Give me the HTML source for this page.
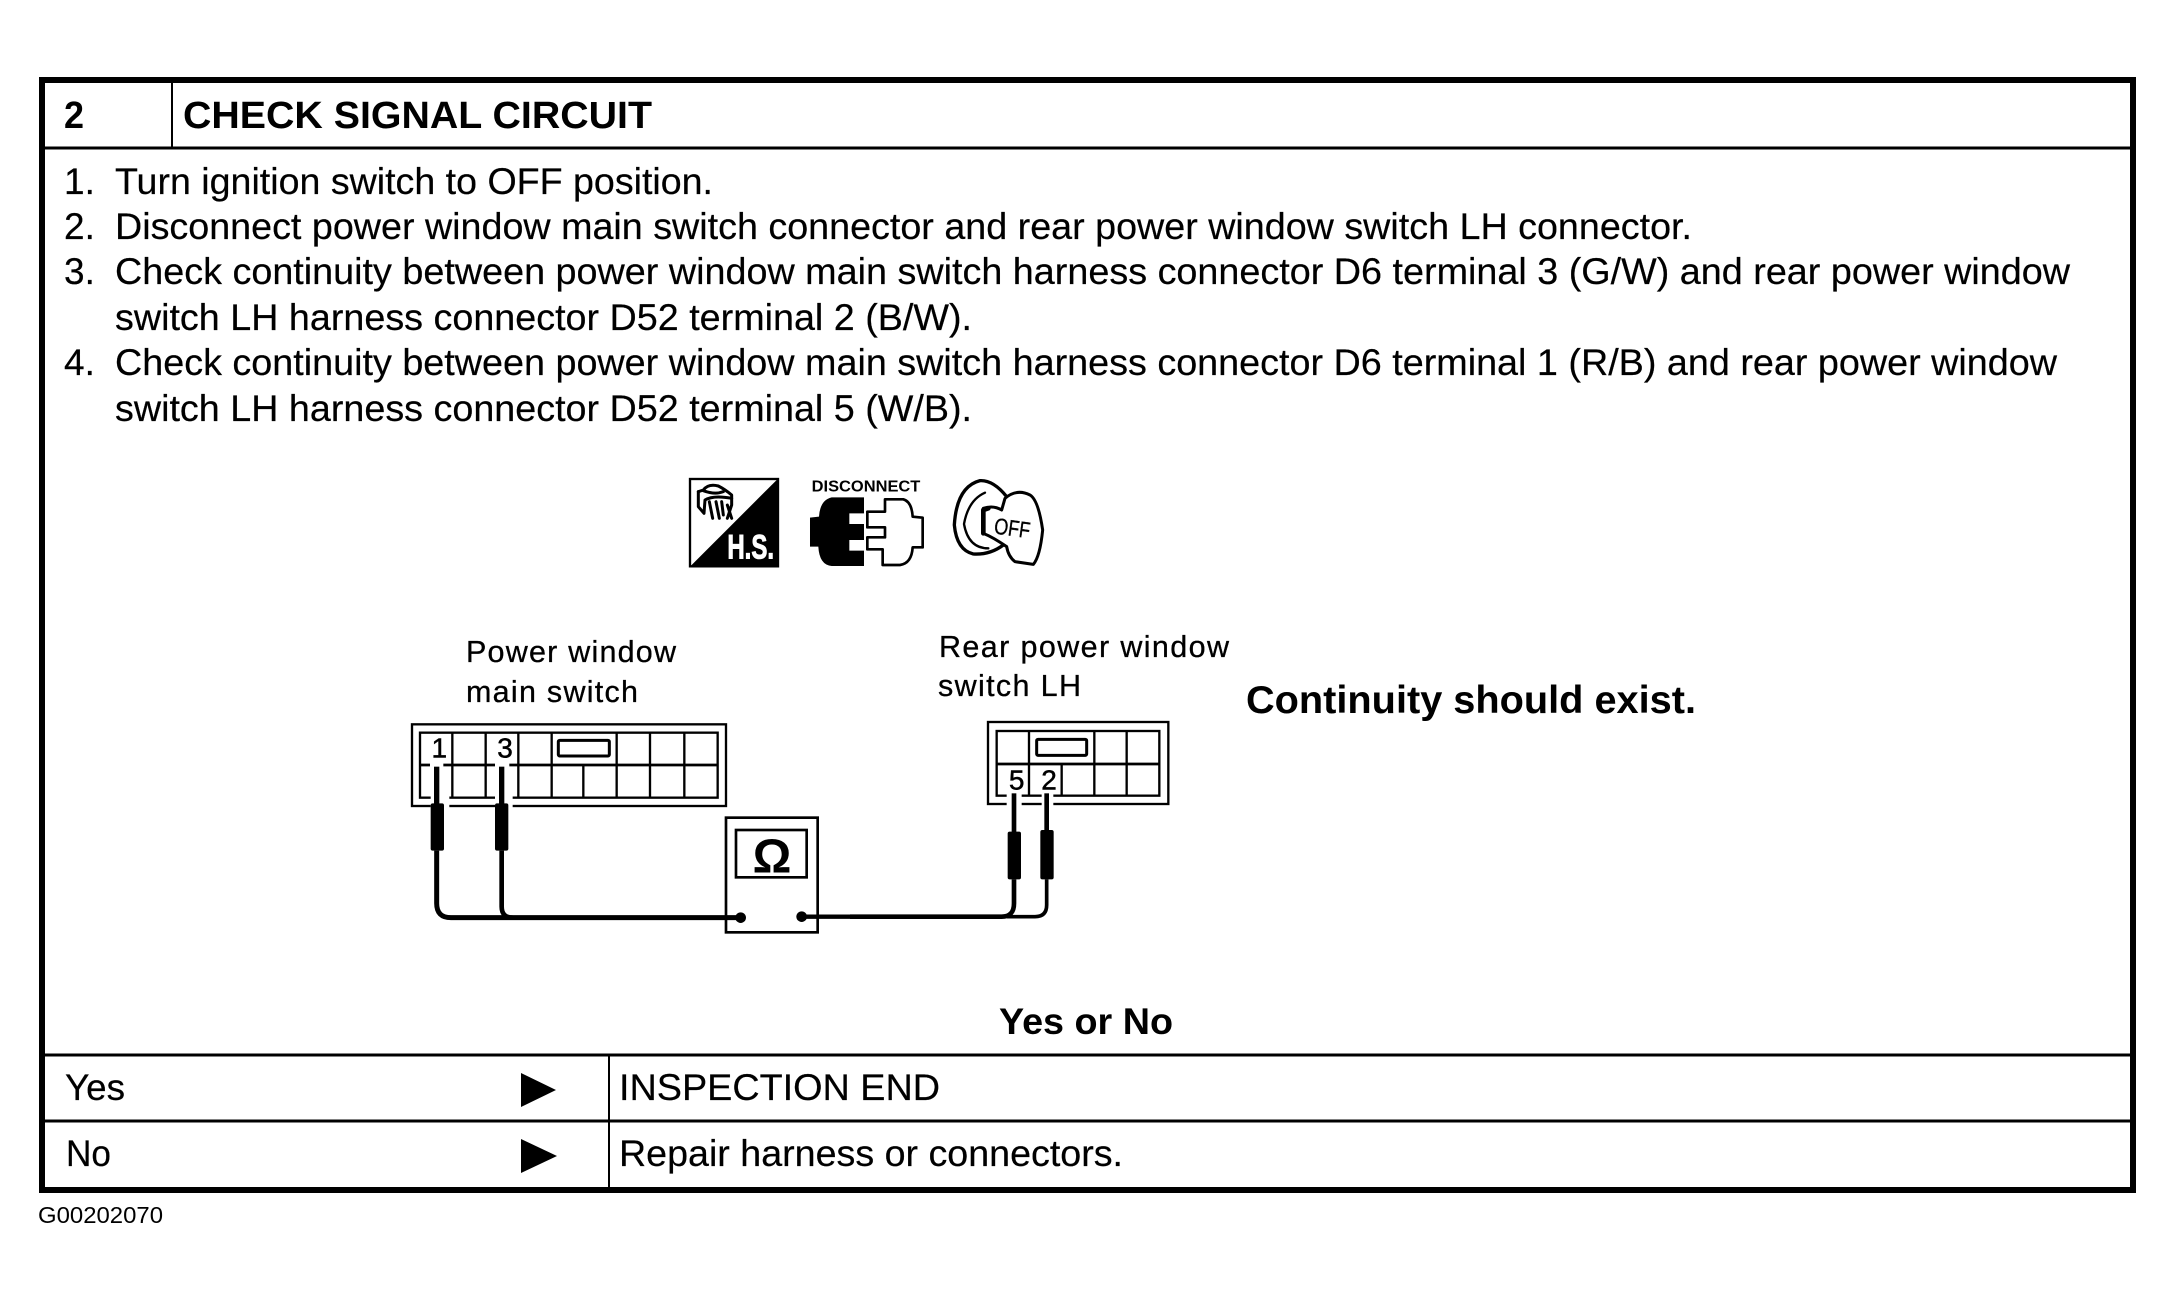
<!DOCTYPE html>
<html>
<head>
<meta charset="utf-8">
<style>
html,body{margin:0;padding:0;background:#fff;width:2176px;height:1299px;overflow:hidden}
svg{display:block}
text{font-family:"Liberation Sans",sans-serif;fill:#000}
.b{font-size:37px;stroke:#000;stroke-width:.2px}
.bd{font-weight:bold;font-size:38px}
.l{font-size:30.5px;stroke:#000;stroke-width:.3px}
</style>
</head>
<body>
<svg width="2176" height="1299" viewBox="0 0 2176 1299" xmlns="http://www.w3.org/2000/svg">
<rect width="2176" height="1299" fill="#fff"/>

<!-- frame -->
<rect x="42" y="80" width="2091" height="1110" fill="none" stroke="#000" stroke-width="6"/>
<line x1="42" y1="148" x2="2133" y2="148" stroke="#000" stroke-width="3"/>
<line x1="172" y1="80" x2="172" y2="148" stroke="#000" stroke-width="2"/>
<line x1="42" y1="1055" x2="2133" y2="1055" stroke="#000" stroke-width="3"/>
<line x1="42" y1="1121" x2="2133" y2="1121" stroke="#000" stroke-width="3"/>
<line x1="609" y1="1055" x2="609" y2="1190" stroke="#000" stroke-width="2"/>

<!-- header -->
<text class="bd" x="64" y="128" textLength="20" lengthAdjust="spacingAndGlyphs">2</text>
<text class="bd" x="183" y="128" textLength="469" lengthAdjust="spacingAndGlyphs">CHECK SIGNAL CIRCUIT</text>

<!-- steps -->
<text class="b" x="64" y="194">1.</text>
<text class="b" x="115" y="194" textLength="598" lengthAdjust="spacingAndGlyphs">Turn ignition switch to OFF position.</text>
<text class="b" x="64" y="239">2.</text>
<text class="b" x="115" y="239" textLength="1577" lengthAdjust="spacingAndGlyphs">Disconnect power window main switch connector and rear power window switch LH connector.</text>
<text class="b" x="64" y="284">3.</text>
<text class="b" x="115" y="284" textLength="1955" lengthAdjust="spacingAndGlyphs">Check continuity between power window main switch harness connector D6 terminal 3 (G/W) and rear power window</text>
<text class="b" x="115" y="330" textLength="857" lengthAdjust="spacingAndGlyphs">switch LH harness connector D52 terminal 2 (B/W).</text>
<text class="b" x="64" y="375">4.</text>
<text class="b" x="115" y="375" textLength="1942" lengthAdjust="spacingAndGlyphs">Check continuity between power window main switch harness connector D6 terminal 1 (R/B) and rear power window</text>
<text class="b" x="115" y="421" textLength="857" lengthAdjust="spacingAndGlyphs">switch LH harness connector D52 terminal 5 (W/B).</text>

<!-- icons (zoom coords) -->
<g transform="translate(640,450) scale(0.33333)">
  <rect x="150" y="87" width="264" height="262" fill="#fff" stroke="#000" stroke-width="7"/>
  <path d="M415,85 L415,350 L150,350 Z" fill="#000"/>
  <text x="262" y="325" style="font-weight:bold;font-size:104px;fill:#fff;stroke:#fff;stroke-width:3px" textLength="140" lengthAdjust="spacingAndGlyphs">H.S.</text>
  <g fill="none" stroke="#000" stroke-width="9" stroke-linejoin="round" stroke-linecap="round">
    <path d="M175,125 L190,120 Q205,100 235,108 Q255,118 275,135 L275,165 L262,205"/>
    <path d="M175,125 L175,170 L192,190 L195,150 Q220,135 275,145"/>
    <path d="M208,155 L218,205 M228,155 L238,205 M245,155 L250,195 M262,165 L275,205"/>
    <path d="M190,122 Q225,135 250,125"/>
  </g>

  <text x="515" y="125" style="font-weight:bold;font-size:48px" textLength="326" lengthAdjust="spacingAndGlyphs">DISCONNECT</text>
  <path d="M672,142 L575,142 Q540,150 537,200 L510,203 L510,290 L535,290 Q538,345 575,348 L672,348 L672,302 L628,302 L628,270 L672,270 L672,222 L628,222 L628,190 L672,190 Z" fill="#000"/>
  <path d="M735,148 L790,148 Q815,155 818,200 L848,203 L848,292 L818,292 Q815,340 780,345 L728,345 L728,298 L682,298 L682,262 L735,262 L735,232 L682,232 L682,185 L735,185 Z" fill="#fff" stroke="#000" stroke-width="8" stroke-linejoin="round"/>

  <g fill="none" stroke="#000" stroke-linecap="round" stroke-linejoin="round">
    <path d="M1100,140 Q1060,90 1020,92 Q950,110 943,225 Q950,300 1000,312 Q1050,315 1090,285" stroke-width="10"/>
    <path d="M1035,128 Q985,150 972,222 Q985,295 1045,295" stroke-width="7"/>
    <path d="M1095,145 Q1130,115 1170,135 Q1195,150 1208,240 Q1200,320 1180,343 L1125,335 Q1105,320 1100,290 Q1060,262 1030,250 L1030,175 Q1060,165 1085,180 Z" fill="#fff" stroke-width="9"/>
    <path d="M1045,175 L1030,180 L1030,250" stroke-width="14"/>
  </g>
  <text transform="translate(1060,250) rotate(8)" style="font-size:68px;stroke:#000;stroke-width:1px" textLength="108" lengthAdjust="spacingAndGlyphs">OFF</text>
</g>

<!-- labels -->
<text class="l" x="466" y="662" textLength="210" lengthAdjust="spacing">Power window</text>
<text class="l" x="466" y="702" textLength="172" lengthAdjust="spacing">main switch</text>
<text class="l" x="939" y="657" textLength="290" lengthAdjust="spacing">Rear power window</text>
<text class="l" x="938" y="696" textLength="143" lengthAdjust="spacing">switch LH</text>
<text x="1246" y="713" style="font-weight:bold;font-size:39px" textLength="450" lengthAdjust="spacingAndGlyphs">Continuity should exist.</text>

<!-- left connector + meter -->
<g transform="translate(390,620) scale(0.33333)" fill="none" stroke="#000">
  <rect x="66" y="313" width="942" height="245" stroke-width="7"/>
  <rect x="90" y="338" width="893" height="195" stroke-width="7"/>
  <path d="M90,435 H983" stroke-width="8"/>
  <path d="M187,338 V533 M287,338 V533 M385,338 V533 M485,338 V533 M680,338 V533 M780,338 V533 M883,338 V533 M580,435 V533" stroke-width="7"/>
  <rect x="505" y="361" width="153" height="47" stroke-width="9" rx="4"/>
  <path d="M122,525 H178 V570 H122 Z M315,525 H368 V570 H315 Z" fill="#fff" stroke="none"/>
  <path d="M120,435 H160 M315,435 H358" stroke="#fff" stroke-width="12"/>
  <text x="148" y="412" text-anchor="middle" style="font-size:84px;stroke:#000;stroke-width:1.5px">1</text>
  <text x="345" y="412" text-anchor="middle" style="font-size:84px;stroke:#000;stroke-width:1.5px">3</text>

  <path d="M140,440 V555" stroke-width="16"/>
  <path d="M335,440 V555" stroke-width="16"/>
  <rect x="122" y="550" width="40" height="142" rx="6" fill="#000" stroke="none"/>
  <rect x="315" y="550" width="40" height="142" rx="6" fill="#000" stroke="none"/>
  <path d="M140,692 V850 Q140,893 183,893 H1050" stroke-width="15"/>
  <path d="M335,692 V860 Q335,893 368,893" stroke-width="14"/>

  <rect x="1008" y="593" width="275" height="344" fill="none" stroke-width="8"/>
  <rect x="1038" y="630" width="212" height="142" stroke-width="8"/>
  <text x="1146" y="757" text-anchor="middle" style="font-weight:bold;font-size:145px;fill:#000;stroke:none">Ω</text>
  <circle cx="1052" cy="893" r="16" fill="#000" stroke="none"/>
  <circle cx="1235" cy="890" r="16" fill="#000" stroke="none"/>
  <path d="M1235,890 H1450" stroke-width="13"/>
</g>

<!-- right connector -->
<g transform="translate(850,620) scale(0.33333)" fill="none" stroke="#000">
  <rect x="414" y="306" width="541" height="246" stroke-width="7"/>
  <rect x="440" y="333" width="488" height="194" stroke-width="7"/>
  <path d="M440,432 H928" stroke-width="8"/>
  <path d="M537,333 V527 M733,333 V527 M830,333 V527 M635,432 V527" stroke-width="7"/>
  <rect x="560" y="358" width="150" height="48" stroke-width="9" rx="4"/>
  <path d="M470,520 H515 V560 H470 Z M575,520 H610 V560 H575 Z" fill="#fff" stroke="none"/>
  <text x="500" y="508" text-anchor="middle" style="font-size:84px;stroke:#000;stroke-width:1.5px">5</text>
  <text x="597" y="508" text-anchor="middle" style="font-size:84px;stroke:#000;stroke-width:1.5px">2</text>
  <path d="M492,520 V640" stroke-width="14"/>
  <path d="M590,520 V640" stroke-width="14"/>
  <rect x="473" y="635" width="40" height="143" rx="6" fill="#000" stroke="none"/>
  <rect x="571" y="630" width="40" height="148" rx="6" fill="#000" stroke="none"/>
  <path d="M492,778 V850 Q492,890 455,890 H0" stroke-width="14"/>
  <path d="M590,778 V855 Q590,890 555,890 H470" stroke-width="11"/>
</g>

<!-- yes or no -->
<text x="999" y="1034" style="font-weight:bold;font-size:37px" textLength="174" lengthAdjust="spacingAndGlyphs">Yes or No</text>
<text class="b" x="65" y="1100" textLength="60" lengthAdjust="spacingAndGlyphs">Yes</text>
<text class="b" x="66" y="1166" textLength="45" lengthAdjust="spacingAndGlyphs">No</text>
<path d="M521,1073 L556,1090 L521,1107 Z" fill="#000"/>
<path d="M521,1139 L557,1156 L521,1173 Z" fill="#000"/>
<text class="b" x="619" y="1100" textLength="321" lengthAdjust="spacingAndGlyphs">INSPECTION END</text>
<text class="b" x="619" y="1166" textLength="504" lengthAdjust="spacingAndGlyphs">Repair harness or connectors.</text>
<text x="38" y="1223" style="font-size:23px" textLength="125" lengthAdjust="spacingAndGlyphs">G00202070</text>
</svg>
</body>
</html>
